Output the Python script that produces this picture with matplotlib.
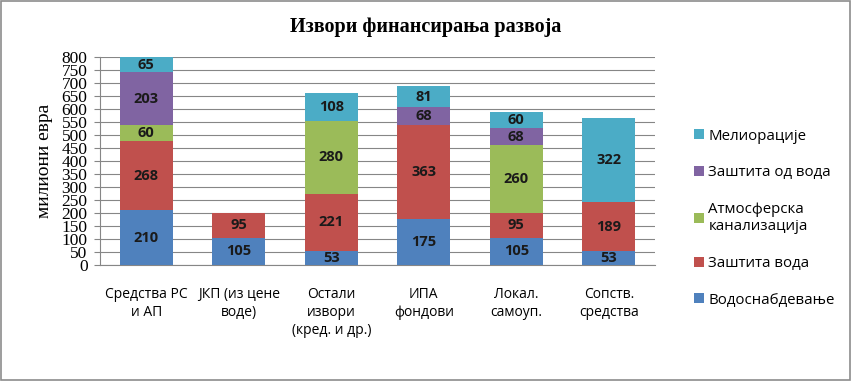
import numpy as np
import matplotlib
matplotlib.use("Agg")
import matplotlib.pyplot as plt
from matplotlib.patches import Rectangle

categories = [
    "Средства РС\nи АП",
    "ЈКП (из цене\nводе)",
    "Остали\nизвори\n(кред. и др.)",
    "ИПА\nфондови",
    "Локал.\nсамоуп.",
    "Сопств.\nсредства",
]
vodosnabdevanje = [210, 105, 53, 175, 105, 53]
zastita_voda = [268, 95, 221, 363, 95, 189]
atmosferska = [60, 0, 280, 0, 260, 0]
zastita_od_voda = [203, 0, 0, 68, 68, 0]
melioracije = [65, 0, 108, 81, 60, 322]

series = [
    ("Водоснабдевање", vodosnabdevanje, "#4F81BD"),
    ("Заштита вода", zastita_voda, "#C0504D"),
    ("Атмосферска\nканализација", atmosferska, "#9BBB59"),
    ("Заштита од вода", zastita_od_voda, "#8064A2"),
    ("Мелиорације", melioracije, "#4BACC6"),
]

sans = ["Open Sans", "DejaVu Sans"]
serif = ["Liberation Serif", "DejaVu Serif"]

fig = plt.figure(figsize=(8.52, 3.81), dpi=100)
ax = fig.add_axes([0.1174, 0.3045, 0.6514, 0.5459])

x = np.arange(len(categories))
bottom = np.zeros(len(categories))
handles = []
for name, vals, color in series:
    vals = np.array(vals, dtype=float)
    bars = ax.bar(x, vals, 0.57, bottom=bottom, color=color, label=name, zorder=3)
    ax.bar_label(bars, labels=[f"{v:.0f}" if v else "" for v in vals],
                 label_type="center", fontsize=10.5, fontweight="bold",
                 color="#1a1a1a", family=sans, zorder=4)
    bottom += vals
    handles.append(bars)

ax.set_xlim(-0.5, len(categories) - 0.5)
ax.set_ylim(0, 800)
ax.set_yticks(np.arange(0, 801, 50))
ax.set_xticks(x)
ax.set_xticklabels(categories, family=sans, fontsize=10, linespacing=1.25)
ax.tick_params(axis="x", length=0, pad=16)
ax.tick_params(axis="y", length=4, direction="out", color="#868686", pad=5)
for lab in ax.get_yticklabels():
    lab.set_family(serif)
    lab.set_fontsize(12.5)
ax.grid(axis="y", color="#868686", linewidth=0.8, zorder=0)
for s in ["top", "right"]:
    ax.spines[s].set_visible(False)
for s in ["left", "bottom"]:
    ax.spines[s].set_color("#868686")
    ax.spines[s].set_linewidth(0.8)

ax.set_ylabel("милиони евра", family=serif, fontsize=14, labelpad=6)

fig.text(0.5, 0.928, "Извори финансирања развоја", ha="center", va="center",
         family=serif, fontsize=14.5, fontweight="bold")

fig.legend(handles[::-1], [s[0] for s in series][::-1], loc="upper left",
           bbox_to_anchor=(0.799, 0.698), frameon=False, prop={"family": sans, "size": 10.8},
           handlelength=0.65, handleheight=0.65, handletextpad=0.3, labelspacing=1.45)

fig.patches.append(Rectangle((0.001, 0.002), 0.997, 0.995, transform=fig.transFigure,
                             fill=False, edgecolor="#8c8c8c", linewidth=1.2))

fig.savefig("out.png", dpi=100)
